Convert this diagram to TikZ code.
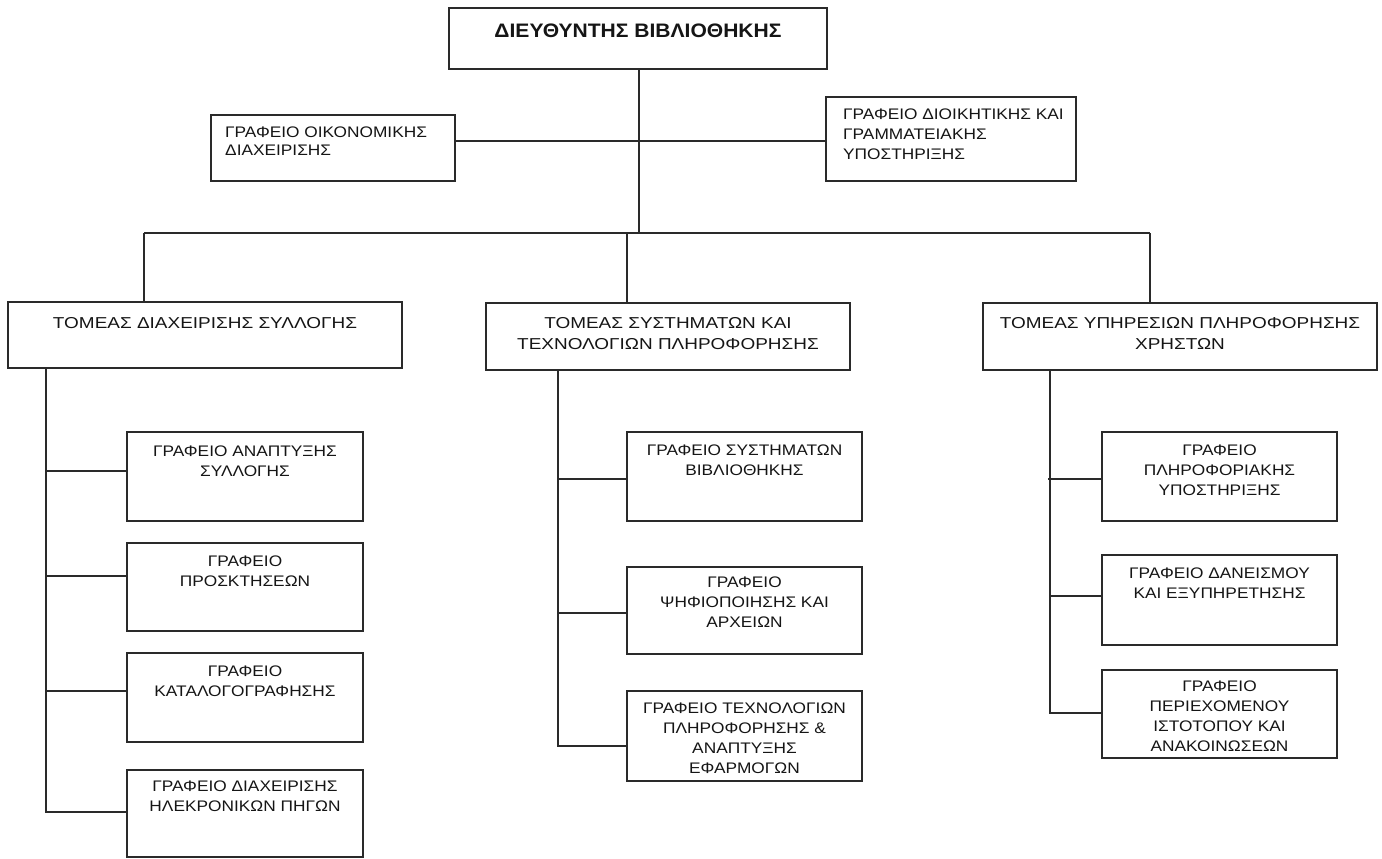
\documentclass[tikz,border=0pt]{standalone}
\usepackage{fontspec}
\setmainfont{Liberation Sans}
\newfontfamily\fa[FakeStretch=1.13]{Liberation Sans}
\newfontfamily\fb[FakeStretch=1.2]{Liberation Sans}
\newfontfamily\fc[FakeStretch=1.08]{Liberation Sans}
\begin{document}
\begin{tikzpicture}[x=1pt,y=-1pt,
  box/.style={draw=ln,line width=1.2pt,rectangle,inner sep=0pt,fill=white},
  conn/.style={draw=ln,line width=1.2pt},
  txt/.style={inner sep=0pt,text=tx,font=\fa\fontsize{15.3}{20}\selectfont,align=center,anchor=north},
  stxt/.style={txt,font=\fb\fontsize{15.8}{21.5}\selectfont},
  ltxt/.style={txt,align=left,anchor=north west}]
\definecolor{ln}{HTML}{2A2A2A}
\definecolor{tx}{HTML}{151515}
\useasboundingbox (0,0) rectangle (1382,859);
% boxes
\node[box,minimum width=378pt,minimum height=61pt] (dir) at (638,38.5) {};
\node[box,minimum width=244pt,minimum height=66pt] (oik) at (333,148) {};
\node[box,minimum width=250pt,minimum height=84pt] (dio) at (951,139) {};
\node[box,minimum width=394pt,minimum height=66pt] (s1) at (205,335) {};
\node[box,minimum width=364pt,minimum height=67pt] (s2) at (668,336.5) {};
\node[box,minimum width=394pt,minimum height=67pt] (s3) at (1180,336.5) {};
\node[box,minimum width=236pt,minimum height=89pt] (l1) at (245,476.5) {};
\node[box,minimum width=236pt,minimum height=88pt] (l2) at (245,587) {};
\node[box,minimum width=236pt,minimum height=89pt] (l3) at (245,697.5) {};
\node[box,minimum width=236pt,minimum height=87pt] (l4) at (245,813.5) {};
\node[box,minimum width=235pt,minimum height=89pt] (m1) at (744.5,476.5) {};
\node[box,minimum width=235pt,minimum height=87pt] (m2) at (744.5,610.5) {};
\node[box,minimum width=235pt,minimum height=90pt] (m3) at (744.5,736) {};
\node[box,minimum width=235pt,minimum height=89pt] (r1) at (1219.5,476.5) {};
\node[box,minimum width=235pt,minimum height=90pt] (r2) at (1219.5,600) {};
\node[box,minimum width=235pt,minimum height=88pt] (r3) at (1219.5,714) {};
% texts
\node[txt,font=\fc\fontsize{19.5}{24}\selectfont\bfseries] at (638,23.5) {ΔΙΕΥΘΥΝΤΗΣ ΒΙΒΛΙΟΘΗΚΗΣ};
\node[ltxt,font=\fa\fontsize{15.3}{18}\selectfont] at (225,126.5) {ΓΡΑΦΕΙΟ ΟΙΚΟΝΟΜΙΚΗΣ\\ΔΙΑΧΕΙΡΙΣΗΣ};
\node[ltxt] at (843,109) {ΓΡΑΦΕΙΟ ΔΙΟΙΚΗΤΙΚΗΣ ΚΑΙ\\ΓΡΑΜΜΑΤΕΙΑΚΗΣ\\ΥΠΟΣΤΗΡΙΞΗΣ};
\node[stxt] at (205,317) {ΤΟΜΕΑΣ ΔΙΑΧΕΙΡΙΣΗΣ ΣΥΛΛΟΓΗΣ};
\node[stxt] at (668,317) {ΤΟΜΕΑΣ ΣΥΣΤΗΜΑΤΩΝ ΚΑΙ\\ΤΕΧΝΟΛΟΓΙΩΝ ΠΛΗΡΟΦΟΡΗΣΗΣ};
\node[stxt] at (1180,317) {ΤΟΜΕΑΣ ΥΠΗΡΕΣΙΩΝ ΠΛΗΡΟΦΟΡΗΣΗΣ\\ΧΡΗΣΤΩΝ};
\node[txt] at (245,446) {ΓΡΑΦΕΙΟ ΑΝΑΠΤΥΞΗΣ\\ΣΥΛΛΟΓΗΣ};
\node[txt] at (245,556) {ΓΡΑΦΕΙΟ\\ΠΡΟΣΚΤΗΣΕΩΝ};
\node[txt] at (245,666) {ΓΡΑΦΕΙΟ\\ΚΑΤΑΛΟΓΟΓΡΑΦΗΣΗΣ};
\node[txt] at (245,781) {ΓΡΑΦΕΙΟ ΔΙΑΧΕΙΡΙΣΗΣ\\ΗΛΕΚΡΟΝΙΚΩΝ ΠΗΓΩΝ};
\node[txt] at (744.5,445) {ΓΡΑΦΕΙΟ ΣΥΣΤΗΜΑΤΩΝ\\ΒΙΒΛΙΟΘΗΚΗΣ};
\node[txt] at (744.5,577) {ΓΡΑΦΕΙΟ\\ΨΗΦΙΟΠΟΙΗΣΗΣ ΚΑΙ\\ΑΡΧΕΙΩΝ};
\node[txt] at (744.5,703) {ΓΡΑΦΕΙΟ ΤΕΧΝΟΛΟΓΙΩΝ\\ΠΛΗΡΟΦΟΡΗΣΗΣ \&\\ΑΝΑΠΤΥΞΗΣ\\ΕΦΑΡΜΟΓΩΝ};
\node[txt] at (1219.5,445) {ΓΡΑΦΕΙΟ\\ΠΛΗΡΟΦΟΡΙΑΚΗΣ\\ΥΠΟΣΤΗΡΙΞΗΣ};
\node[txt] at (1219.5,568) {ΓΡΑΦΕΙΟ ΔΑΝΕΙΣΜΟΥ\\ΚΑΙ ΕΞΥΠΗΡΕΤΗΣΗΣ};
\begin{scope}
\clip (1103,671) rectangle (1336,750.3);
\node[txt] at (1219.5,681) {ΓΡΑΦΕΙΟ\\ΠΕΡΙΕΧΟΜΕΝΟΥ\\ΙΣΤΟΤΟΠΟΥ ΚΑΙ\\ΑΝΑΚΟΙΝΩΣΕΩΝ};
\end{scope}
% connector coordinates
\coordinate (mid) at (639,141);
\coordinate (busL) at (144,233);
\coordinate (busM) at (627,233);
\coordinate (busR) at (1150,233);
\coordinate (busC) at (639,233);
\coordinate (tl) at (46,812);
\coordinate (tm) at (558,746);
\coordinate (tr) at (1050,713);
% connectors
\draw[conn] (dir.south -| busC) -- (busC);
\draw[conn] (oik.east |- mid) -- (mid) -- (dio.west |- mid);
\draw[conn] (busL) -- (busR);
\draw[conn] (busL) -- (s1.north -| busL);
\draw[conn] (busM) -- (s2.north -| busM);
\draw[conn] (busR) -- (s3.north -| busR);
\draw[conn] (s1.south -| tl) -- (tl) -- (l4.west |- tl);
\draw[conn] (tl |- 0,471) -- (l1.west |- 0,471);
\draw[conn] (tl |- 0,576) -- (l2.west |- 0,576);
\draw[conn] (tl |- 0,691) -- (l3.west |- 0,691);
\draw[conn] (s2.south -| tm) -- (tm) -- (m3.west |- tm);
\draw[conn] (tm |- 0,479) -- (m1.west |- 0,479);
\draw[conn] (tm |- 0,613) -- (m2.west |- 0,613);
\draw[conn] (s3.south -| tr) -- (tr) -- (r3.west |- tr);
\draw[conn] ([xshift=-2pt]tr |- 0,479) -- (r1.west |- 0,479);
\draw[conn] (tr |- 0,596) -- (r2.west |- 0,596);
\end{tikzpicture}
\end{document}
